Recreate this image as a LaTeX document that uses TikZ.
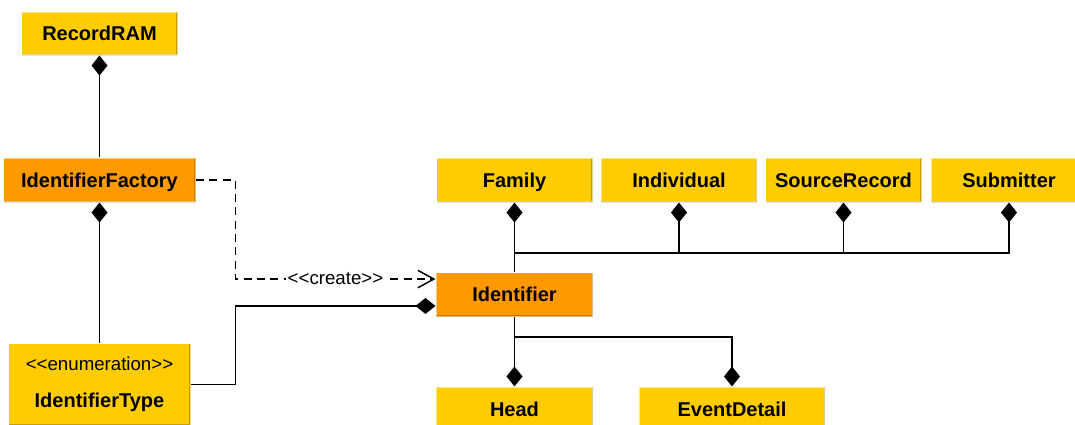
\documentclass[tikz,border=0pt]{standalone}
\usepackage{fontspec}
\setmainfont{Liberation Sans}
\usetikzlibrary{arrows.meta}
\definecolor{umlyellow}{HTML}{FFCC00}
\definecolor{umlorange}{HTML}{FF9900}
\newcommand{\stereo}[1]{<\kern0pt<#1>\kern0pt>}
\begin{document}
\begin{tikzpicture}[x=0.75pt,y=-0.75pt]
	\tikzstyle{classbox}=[rectangle, fill=umlyellow, draw=white, draw opacity=0.5, line width=0.8pt, minimum width=117pt, minimum height=33pt, inner sep=0pt, text height=12pt, text depth=1.5pt, font=\fontsize{15}{18}\selectfont\bfseries, path picture={\draw[black, opacity=0.22, line width=2pt] (path picture bounding box.south west) -- (path picture bounding box.south east) -- (path picture bounding box.north east);}]
	\tikzstyle{hotbox}=[classbox, fill=umlorange]
	\tikzstyle{comp}=[{Diamond[length=15pt,width=12pt]}-, line width=1.3pt]
	\tikzstyle{dep}=[-{Straight Barb[length=12pt,width=13pt]}, dash pattern=on 6pt off 4pt, line width=1.1pt]
	\tikzstyle{tag}=[fill=white, inner sep=1.5pt, font=\fontsize{14}{16}\selectfont]
	\useasboundingbox (0,0) rectangle (1075,425);
	% left column
	\node[classbox, minimum height=32.25pt] (recordram) at (99.5,33.5) {RecordRAM};
	\node[hotbox, minimum width=144pt] (factory) at (99.5,180) {IdentifierFactory};
	\node[classbox, minimum width=136.5pt, minimum height=61pt, text height={}, text depth={}, align=center] (idtype) at (99.5,384.5) {{\fontsize{14}{16}\selectfont\mdseries \stereo{enumeration}}\\[10pt]IdentifierType};
	% top row
	\foreach \n/\t/\x in {family/Family/514.5, individual/Individual/679, sourcerecord/SourceRecord/843.5, submitter/Submitter/1009}
	{
		\node[classbox] (\n) at (\x,180) {\t};
	}
	\node[hotbox, minimum width=117.75pt] (identifier) at (514.5,294.5) {Identifier};
	\node[classbox, minimum width=117.75pt] (head) at (514.5,409) {Head};
	\node[classbox, minimum width=139.5pt] (eventdetail) at (732,409) {EventDetail};
	\coordinate (bus) at (514.5,253);
	\coordinate (branch) at (514.5,337);
	\coordinate (jog) at (235.5,0);
	\coordinate (entry) at ([yshift=11.6pt]identifier.west);
	\coordinate (agg) at ([yshift=-8.6pt]identifier.west);
	% connectors
	\draw[comp] (recordram.south) -- (factory.north);
	\draw[comp] (factory.south) -- (idtype.north);
	\draw[comp] (family.south) -- (identifier.north);
	\foreach \n in {individual,sourcerecord,submitter}
	{
		\draw[comp] (\n.south) |- (bus);
	}
	\draw[comp] (head.north) -- (identifier.south);
	\draw[comp] (eventdetail.north) |- (branch);
	\draw[comp] (agg) -| (jog |- idtype.east) -- (idtype.east);
	\draw[dep] (factory.east) -| (jog |- entry) -- node[tag] (create) {\stereo{create}} (entry);
\end{tikzpicture}
\end{document}
